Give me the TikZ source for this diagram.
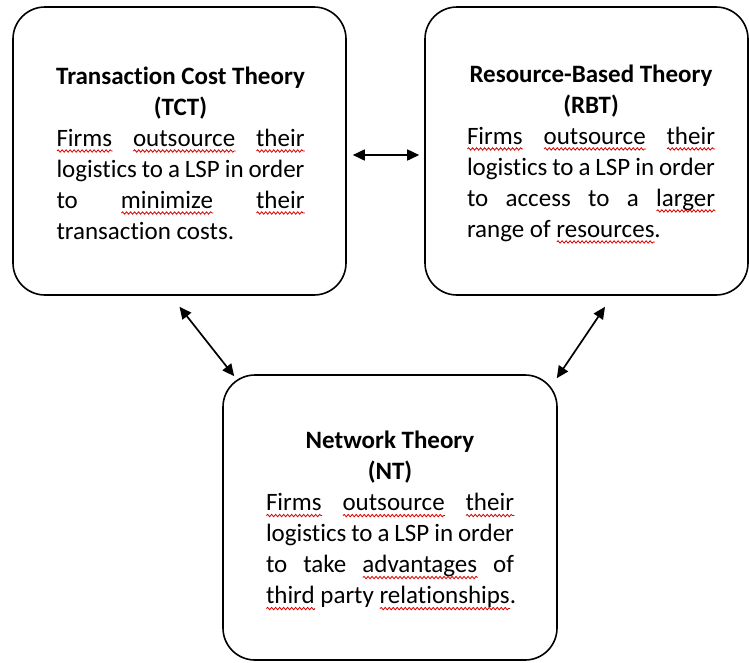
\documentclass[tikz,border=0pt]{standalone}
\usepackage{fontspec}
\setmainfont[Ligatures=NoCommon]{Carlito}
\usetikzlibrary{arrows.meta,calc,decorations.pathmorphing}

% red wavy underline, as a spell checker marks words
\newsavebox\wordbox
\newcommand\spellwave[1]{%
  \sbox\wordbox{#1}%
  \rlap{\usebox\wordbox}%
  \smash{\makebox[\wd\wordbox][l]{%
    \tikz[baseline=0pt, sharp corners]\draw[red!85!black, line width=0.8pt]
      decorate[decoration={snake, amplitude=1.2pt, segment length=4pt}]
      {(0pt,-4.8pt) -- (\the\wd\wordbox,-4.8pt)};}}}
% one justified line and one flush-left closing line of body text
\newcommand\jline[1]{\makebox[248pt][s]{#1}}
\newcommand\lline[1]{\makebox[248pt][l]{#1}}

\tikzset{
  theorybox/.style={draw=black, line width=1.6pt, rounded corners=32pt,
    inner sep=0pt},
  theorytext/.style={align=center, inner sep=0pt,
    font=\fontsize{25}{31}\selectfont},
  link/.style={line width=1.7pt,
    {Triangle[length=12pt,width=11pt]}-{Triangle[length=12pt,width=11pt]}}
}

\begin{document}
\begin{tikzpicture}[x=1pt, y=-1pt]
\useasboundingbox (0,0) rectangle (749,662);

% the three theory boxes
\node[theorybox, minimum width=333pt, minimum height=288pt] (tct) at (179.5,151) {};
\node[theorybox, minimum width=323pt, minimum height=288pt] (rbt) at (586.5,151) {};
\node[theorybox, minimum width=334pt, minimum height=285pt] (nt) at (390,517.5) {};

% their texts
\node[theorytext] (tcttext) at ($(tct.center)+(1,2)$)
  {\textbf{Transaction Cost Theory}\\
   \textbf{(TCT)}\\
   \jline{\spellwave{Firms} \spellwave{outsource} \spellwave{their}}\\
   \jline{logistics to a LSP in order}\\
   \jline{to \spellwave{minimize} \spellwave{their}}\\
   \lline{transaction costs.}};

\node[theorytext] (rbttext) at ($(rbt.center)+(4.5,2)$)
  {\textbf{Resource-Based Theory}\\
   \textbf{(RBT)}\\
   \jline{\spellwave{Firms} \spellwave{outsource} \spellwave{their}}\\
   \jline{logistics to a LSP in order}\\
   \jline{to access to a \spellwave{larger}}\\
   \lline{range of \spellwave{resources}.}};

\node[theorytext] (nttext) at ($(nt.center)+(0,2)$)
  {\textbf{Network Theory}\\
   \textbf{(NT)}\\
   \jline{\spellwave{Firms} \spellwave{outsource} \spellwave{their}}\\
   \jline{logistics to a LSP in order}\\
   \jline{to take \spellwave{advantages} of}\\
   \lline{\spellwave{third} party \spellwave{relationships}.}};

% two-way links between the theories
\draw[link] ($(tct.east)+(6,4)$) -- ($(rbt.west)+(-5,4)$);
\draw[link] ($(tct.south)+(0,11)$) -- ($(nt.north west)+(12,2)$);
\draw[link] ($(rbt.south)+(18.5,11)$) -- ($(nt.north east)+(-1,4)$);
\end{tikzpicture}
\end{document}
